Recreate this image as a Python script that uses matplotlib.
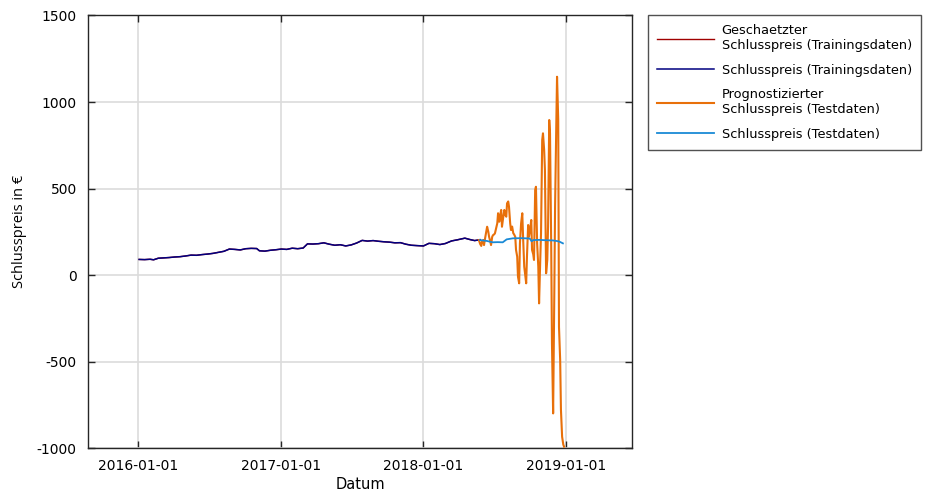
import matplotlib
matplotlib.use("Agg")
import matplotlib.pyplot as plt
import matplotlib.dates as mdates
import pandas as pd

plt.rcParams["axes.unicode_minus"] = False

# Closing prices used for training
train_dates = [
    "2016-01-04", "2016-01-18", "2016-02-01", "2016-02-10", "2016-02-22", "2016-03-07",
    "2016-03-21", "2016-04-04", "2016-04-18", "2016-05-02", "2016-05-16", "2016-05-30",
    "2016-06-13", "2016-06-27", "2016-07-11", "2016-07-25", "2016-08-08", "2016-08-22",
    "2016-09-05", "2016-09-19", "2016-10-03", "2016-10-17", "2016-10-31", "2016-11-07",
    "2016-11-21", "2016-12-05", "2016-12-19", "2017-01-02", "2017-01-16", "2017-01-30",
    "2017-02-13", "2017-02-27", "2017-03-10", "2017-03-24", "2017-04-07", "2017-04-21",
    "2017-05-05", "2017-05-19", "2017-06-02", "2017-06-16", "2017-06-30", "2017-07-14",
    "2017-07-28", "2017-08-11", "2017-08-25", "2017-09-08", "2017-09-22", "2017-10-06",
    "2017-10-20", "2017-11-03", "2017-11-17", "2017-12-01", "2017-12-15", "2018-01-01",
    "2018-01-15", "2018-01-29", "2018-02-12", "2018-02-26", "2018-03-14", "2018-03-28",
    "2018-04-17", "2018-04-30", "2018-05-12", "2018-05-26",
]
train_close = [
    90, 89, 91, 88, 97, 99,
    101, 104, 106, 110, 115, 114,
    118, 121, 125, 131, 137, 150,
    148, 145, 152, 154, 153, 140,
    138, 143, 146, 150, 148, 155,
    152, 156, 180, 179, 181, 186,
    178, 172, 175, 168, 174, 185,
    200, 196, 199, 195, 192, 190,
    186, 187, 178, 172, 170, 168,
    183, 181, 176, 182, 197, 203,
    213, 205, 199, 204,
]
# Fitted values on the training range (coincide with the closing prices)
train_fit = list(train_close)

# Closing prices in the test range
test_dates = [
    "2018-05-26", "2018-06-05", "2018-06-12", "2018-06-27", "2018-07-10", "2018-07-23",
    "2018-08-02", "2018-08-18", "2018-09-10", "2018-09-30", "2018-10-05", "2018-10-09",
    "2018-10-25", "2018-11-10", "2018-11-28", "2018-12-10", "2018-12-16", "2018-12-24",
]
test_close = [
    202, 199, 197, 189, 190, 189,
    206, 212, 213, 211, 195, 202,
    203, 201, 200, 196, 192, 183,
]

# Predicted closing prices in the test range
pred_dates = [
    "2018-05-23", "2018-05-26", "2018-05-29", "2018-05-31", "2018-06-03", "2018-06-05",
    "2018-06-08", "2018-06-10", "2018-06-13", "2018-06-16", "2018-06-18", "2018-06-21",
    "2018-06-23", "2018-06-26", "2018-06-28", "2018-07-01", "2018-07-03", "2018-07-06",
    "2018-07-09", "2018-07-11", "2018-07-14", "2018-07-16", "2018-07-19", "2018-07-21",
    "2018-07-24", "2018-07-27", "2018-07-29", "2018-08-01", "2018-08-03", "2018-08-06",
    "2018-08-08", "2018-08-11", "2018-08-13", "2018-08-16", "2018-08-19", "2018-08-21",
    "2018-08-24", "2018-08-26", "2018-08-29", "2018-08-31", "2018-09-03", "2018-09-05",
    "2018-09-08", "2018-09-11", "2018-09-13", "2018-09-16", "2018-09-18", "2018-09-21",
    "2018-09-23", "2018-09-26", "2018-09-28", "2018-10-01", "2018-10-04", "2018-10-06",
    "2018-10-09", "2018-10-11", "2018-10-14", "2018-10-16", "2018-10-19", "2018-10-22",
    "2018-10-24", "2018-10-27", "2018-10-29", "2018-11-01", "2018-11-03", "2018-11-06",
    "2018-11-08", "2018-11-11", "2018-11-14", "2018-11-16", "2018-11-19", "2018-11-21",
    "2018-11-24", "2018-11-26", "2018-11-29", "2018-12-02", "2018-12-04", "2018-12-07",
    "2018-12-09", "2018-12-12", "2018-12-14", "2018-12-17", "2018-12-19", "2018-12-22",
    "2018-12-25", "2018-12-27",
]
pred_close = [
    202, 180, 168, 195, 202, 173,
    215, 241, 279, 250, 221, 195,
    173, 221, 230, 235, 241, 270,
    299, 357, 308, 340, 376, 279,
    330, 376, 350, 337, 414, 425,
    395, 299, 260, 280, 241, 235,
    221, 145, 106, -10, -48, 183,
    299, 357, 221, 48, 10, -48,
    106, 289, 221, 260, 318, 145,
    120, 87, 491, 510, 183, 48,
    -164, 87, 241, 780, 819, 723,
    607, 10, 87, 279, 896, 820,
    183, -395, -800, -106, 400, 857,
    1146, 900, -300, -491, -780, -935,
    -980, -992,
]

x_ticks = ["2016-01-01", "2017-01-01", "2018-01-01", "2019-01-01"]
y_ticks = [-1000, -500, 0, 500, 1000, 1500]

fig = plt.figure(figsize=(9.27, 4.92), dpi=100)
ax = fig.add_axes([0.0949, 0.0894, 0.5869, 0.8791])

ax.plot(pd.to_datetime(train_dates), train_fit, color="#a00000", lw=1.0,
        label="Geschaetzter\nSchlusspreis (Trainingsdaten)", zorder=2)
ax.plot(pd.to_datetime(train_dates), train_close, color="#000080", lw=1.1,
        label="Schlusspreis (Trainingsdaten)", zorder=3)
ax.plot(pd.to_datetime(pred_dates), pred_close, color="#e8700a", lw=1.5,
        label="Prognostizierter\nSchlusspreis (Testdaten)", zorder=4)
ax.plot(pd.to_datetime(test_dates), test_close, color="#1a8ad6", lw=1.3,
        label="Schlusspreis (Testdaten)", zorder=5)

ax.set_xlim(pd.Timestamp("2015-08-26"), pd.Timestamp("2019-06-19"))
ax.set_ylim(-1000, 1500)
ax.set_xticks(pd.to_datetime(x_ticks))
ax.xaxis.set_major_formatter(mdates.DateFormatter("%Y-%m-%d"))
ax.set_yticks(y_ticks)

ax.grid(True, color="#dcdcdc", lw=1.2)
ax.set_axisbelow(True)
ax.tick_params(direction="in", length=5, width=1, color="#262626",
               top=True, right=True, labelsize=10, pad=8)
for s in ax.spines.values():
    s.set_color("#262626")
    s.set_linewidth(1.0)

ax.set_xlabel("Datum", fontsize=10.5, labelpad=3)
ax.set_ylabel("Schlusspreis in €", fontsize=10.5, family="Open Sans", labelpad=7)

leg = fig.legend(loc="upper left", bbox_to_anchor=(648 / 927, 1 - 15 / 492),
                 bbox_transform=fig.transFigure, borderaxespad=0,
                 fontsize=9.3, frameon=True, fancybox=False, edgecolor="#262626",
                 handlelength=4.4, handletextpad=0.6, labelspacing=0.9,
                 borderpad=0.7)
leg.get_frame().set_linewidth(1.0)

fig.savefig("out.png", dpi=100)
